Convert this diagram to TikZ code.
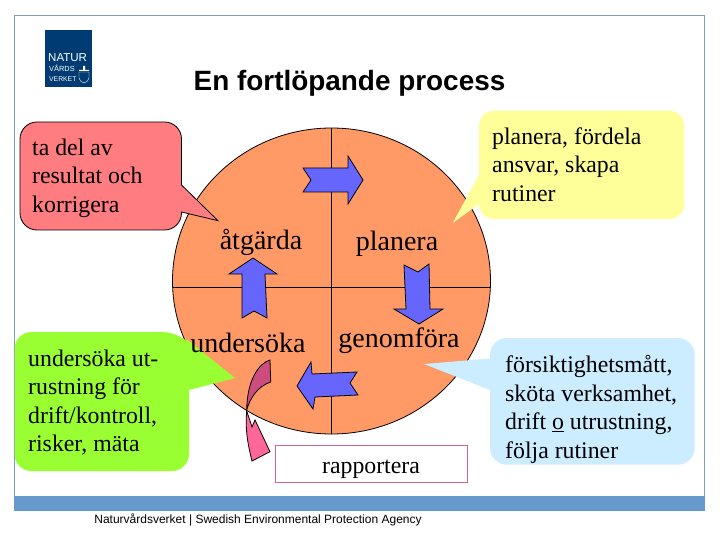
\documentclass[tikz,border=0pt]{standalone}
\usepackage{fontspec}
\setmainfont{Liberation Serif}
\newfontfamily\hv{Liberation Sans}
\definecolor{framec}{HTML}{7F9DB9}
\definecolor{bandc}{HTML}{6699CC}
\definecolor{logoc}{HTML}{003B73}
\definecolor{diskc}{HTML}{FF9966}
\definecolor{arrowc}{HTML}{6666FF}
\definecolor{redc}{HTML}{FF7C80}
\definecolor{yelc}{HTML}{FFFF99}
\definecolor{bluc}{HTML}{CCECFF}
\definecolor{grnc}{HTML}{99FF33}
\definecolor{plumc}{HTML}{CC4C80}
\definecolor{pinkc}{HTML}{FF6699}
\definecolor{boxc}{HTML}{CC6699}
\tikzset{
  x=1pt,y=-1pt,
  flow/.style={draw=black,fill=arrowc,line width=0.8pt,line join=miter},
  talk/.style={inner sep=0pt,anchor=west,align=left,font=\fontsize{23.8}{28.4}\selectfont},
  word/.style={inner sep=0pt,anchor=base,font=\fontsize{28}{32}\selectfont},
  logotext/.style={inner sep=0pt,anchor=base west,text=white,font=\hv},
}
\begin{document}
\begin{tikzpicture}
\useasboundingbox (0,0) rectangle (720,540);
\fill[white] (0,0) rectangle (720,540);
% frame
\draw[framec,line width=1pt] (14.5,496) -- (14.5,15.5) -- (704,15.5) -- (704,496);
\fill[bandc] (14,496) rectangle (704.5,511);
% logo
\fill[logoc] (45,30) rectangle (92,87);
\node[logotext,font=\hv\fontsize{11.5}{12}\selectfont] (lg1) at (48,62) {NATUR};
\node[logotext,font=\hv\fontsize{7.4}{8}\selectfont] (lg2) at (49,72) {VÅRDS};
\node[logotext,font=\hv\fontsize{6.8}{8}\selectfont] (lg3) at (49,82) {VERKET};
\draw[white,line width=0.4pt] (79,72) -- (89,72) -- (89,78) .. controls (89,81) and (86,82) .. (84,83) .. controls (82,82) and (79,81) .. (79,78) -- cycle;
\fill[white] (79,70) rectangle (89,71) (83,66) rectangle (85,70);
% title
\node[inner sep=0pt,anchor=base,font=\hv\bfseries\fontsize{27.9}{32}\selectfont] (title) at (349.5,91) {En fortlöpande process};
% disk
\draw[fill=diskc,line width=0.8pt] (331.5,281) ellipse [x radius=159,y radius=153];
\coordinate (vt) at (331,128);
\coordinate (vb) at (331,434);
\coordinate (hl) at (173,287);
\coordinate (hr) at (490.5,287);
\draw[line width=0.8pt] (vt) -- (vb);
\draw[line width=0.8pt] (hl) -- (hr);
% arrows
\draw[flow] (303,168) -- (311,180) -- (303,192) -- (348,192) -- (348,204) -- (363,180) -- (348,156) -- (348,168) -- cycle;
\draw[flow] (404,265) -- (418,272) -- (429,264) -- (430,309) -- (443,309) -- (419,324) -- (394,309) -- (406,309) -- cycle;
\draw[flow] (297,386) -- (311,362) -- (312,374) -- (357,372) -- (350,383) -- (358,395) -- (315,397) -- (313,409) -- cycle;
\draw[flow] (253,258) -- (277,274) -- (265,274) -- (267,318) -- (254,311) -- (242,318) -- (242,274) -- (229,274) -- cycle;
% curved arrow
\draw[fill=plumc,line width=0.8pt] (270,360) .. controls (259,363) and (247,380) .. (246.7,410) .. controls (250,398) and (258,386) .. (270.7,382) -- cycle;
\draw[fill=pinkc,line width=0.8pt] (246.7,411) .. controls (245,430) and (248,445) .. (252,461) -- (270,451.7) -- (255,420) -- (252,427) -- cycle;
% report box
\node[draw=boxc,fill=white,line width=0.8pt,minimum width=192pt,minimum height=37pt,inner sep=0pt] (rap) at (371.5,463.8) {};
\node[inner sep=0pt,anchor=base,font=\fontsize{23.8}{28}\selectfont] (raptext) at (371,473) {rapportera};
% callouts
\draw[fill=redc,line width=0.8pt] (181.5,185) [rounded corners=17] -- (181.5,122) -- (20,122) -- (20,230) -- (181.5,230) [sharp corners] -- (181.5,212) -- (218,220.7) -- cycle;
\node[talk] (c1) at (32,178) {ta del av\\resultat och\\korrigera};
\fill[yelc] (479,175) [rounded corners=15] -- (479,110.7) -- (684,110.7) -- (684,219) -- (479,219) [sharp corners] -- (479,204) -- (452.7,223) -- cycle;
\node[talk] (c2) at (492,164.5) {planera, fördela\\ansvar, skapa\\rutiner};
\fill[bluc] (490,358.5) [rounded corners=17] -- (490,338) -- (694.7,338) -- (694.7,464.7) -- (490,464.7) [sharp corners] -- (490,390) -- (424,364) -- cycle;
\node[talk] (c3) at (505,409.5) {försiktighetsmått,\\sköta verksamhet,\\drift \underline{o} utrustning,\\följa rutiner};
\fill[grnc] (185,338) [rounded corners=17] -- (180,332) -- (14.5,332) -- (14.5,471) -- (189,471) [sharp corners] -- (189,390) -- (235,378) -- cycle;
\node[talk] (c4) at (28,402.5) {undersöka ut-\\rustning för\\drift/kontroll,\\risker, mäta};
% labels
\node[word] (atg) at (261,249) {åtgärda};
\node[word] (pla) at (397,250) {planera};
\node[word] (und) at (248,352) {undersöka};
\node[word] (gen) at (399,347) {genomföra};
% footer
\node[inner sep=0pt,anchor=base,font=\hv\fontsize{12}{14}\selectfont] (foot) at (258,523.5) {Naturvårdsverket | Swedish Environmental Protection Agency};
\end{tikzpicture}
\end{document}
